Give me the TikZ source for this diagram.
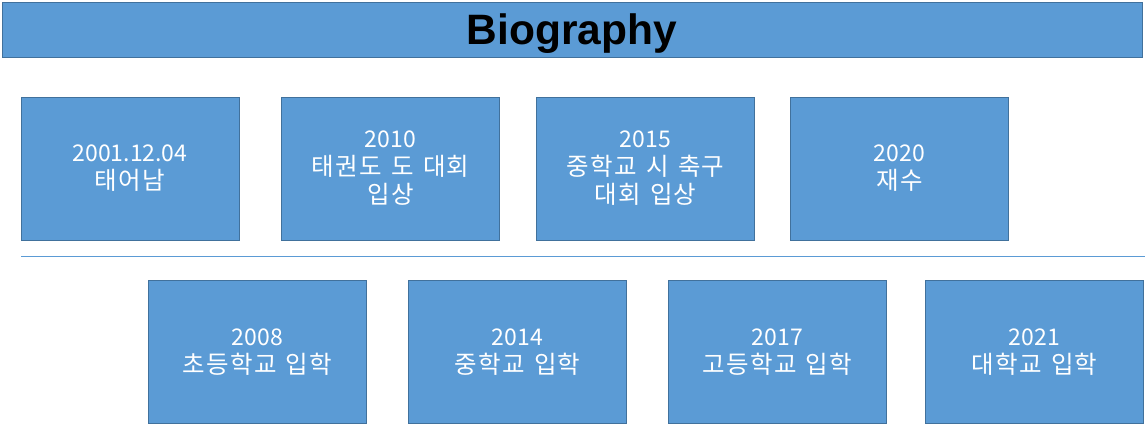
\documentclass[tikz,border=0pt]{standalone}
\usepackage{fontspec}
\newfontfamily\kr[LetterSpace=5,WordSpace=1.4]{Noto Sans CJK KR}
\newfontfamily\num{Noto Sans CJK KR}
\newfontfamily\titlefont{Liberation Sans}
\definecolor{boxfill}{HTML}{5B9BD5}
\definecolor{boxline}{HTML}{41719C}
\tikzset{
  bluebox/.style={draw=boxline, line width=0.8pt, fill=boxfill, minimum width=218pt, minimum height=143pt, inner sep=0pt, align=center, text=white, font=\kr\fontsize{24.5}{28}\selectfont},
  titlebar/.style={draw=boxline, line width=0.8pt, fill=boxfill, minimum width=1140pt, minimum height=55pt, inner sep=0pt},
  titletext/.style={inner sep=0pt, anchor=base, font=\titlefont\bfseries\fontsize{42.5}{46}\selectfont, text=black},
  sepline/.style={draw=boxfill, line width=1pt}
}
\newcommand{\yr}[1]{{\num\fontsize{23}{28}\selectfont #1}}
\begin{document}
\begin{tikzpicture}[x=1pt,y=-1pt]
\useasboundingbox (0,0) rectangle (1145,425);
\node[titlebar] (title) at (572,29.5) {};
\node[titletext] (titlelabel) at (572,44.5) {Biography};
\node[bluebox] (b1) at (130,168.5) {\yr{2001.12.04}\\태어남};
\node[bluebox] (b2) at (390.5,168.5) {\yr{2010}\\태권도 도 대회\\입상};
\node[bluebox] (b3) at (645.5,168.5) {\yr{2015}\\중학교 시 축구\\대회 입상};
\node[bluebox] (b4) at (899.5,168.5) {\yr{2020}\\재수};
\coordinate (l1) at (21,256);
\coordinate (l2) at (1145,256);
\draw[sepline] (l1) -- (l2);
\node[bluebox] (b5) at (257.5,352) {\yr{2008}\\초등학교 입학};
\node[bluebox] (b6) at (517.5,352) {\yr{2014}\\중학교 입학};
\node[bluebox] (b7) at (777.5,352) {\yr{2017}\\고등학교 입학};
\node[bluebox] (b8) at (1034.5,352) {\yr{2021}\\대학교 입학};
\end{tikzpicture}
\end{document}
